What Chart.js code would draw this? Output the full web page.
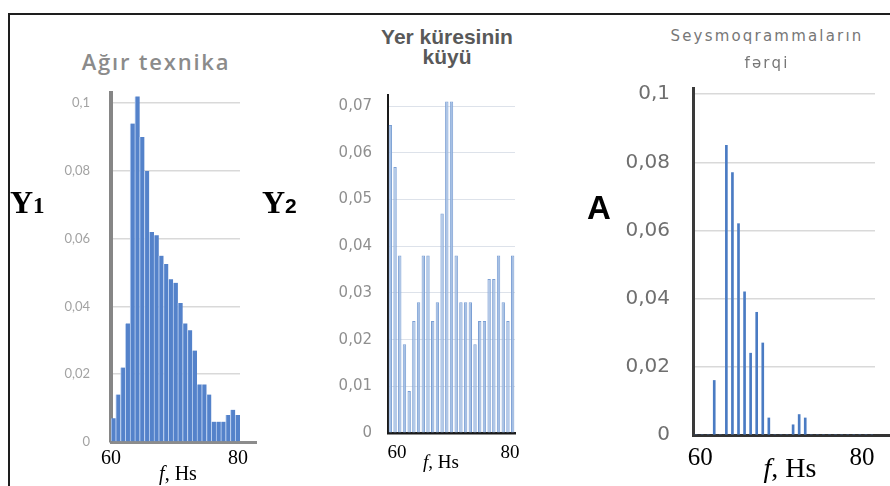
<!DOCTYPE html>
<html>
<head>
<meta charset="utf-8">
<script src="https://cdn.jsdelivr.net/npm/chart.js@4.4.1/dist/chart.umd.min.js"></script>
<style>
  html, body { margin: 0; padding: 0; background: #fff; }
  body { width: 890px; height: 486px; position: relative; overflow: hidden; }
  .frame { position: absolute; left: 8px; top: 13px; width: 900px; height: 500px;
           border-top: 2px solid #1e1e1e; border-left: 2px solid #1e1e1e; }
  canvas { position: absolute; }
  .t { position: absolute; white-space: nowrap; text-align: center; line-height: 1; }
  .serif { font-family: "Liberation Serif", "Times New Roman", serif; color: #000; }
</style>
</head>
<body>
<div class="frame"></div>

<canvas id="c1" width="272" height="406" style="left:20px;top:80px"></canvas>
<canvas id="c2" width="240" height="406" style="left:300px;top:80px"></canvas>
<canvas id="c3" width="290" height="416" style="left:600px;top:70px"></canvas>

<!-- panel titles -->
<div class="t" style="left:56px;width:200px;top:46px;font:600 22px 'Open Sans';color:#8b8b8b;letter-spacing:1.8px">Ağır texnika</div>
<div class="t" style="left:347px;width:200px;top:25px;font:bold 21px 'Liberation Sans';color:#595959">Yer küresinin</div>
<div class="t" style="left:347px;width:200px;top:45px;font:bold 21px 'Liberation Sans';color:#595959">küyü</div>
<div class="t" style="left:667px;width:200px;top:27px;font:15px 'DejaVu Sans';color:#777;letter-spacing:2.2px">Seysmoqrammaların</div>
<div class="t" style="left:667px;width:200px;top:54px;font:15px 'DejaVu Sans';color:#777;letter-spacing:2.2px">fərqi</div>

<!-- side labels -->
<div class="t serif" style="left:10px;top:186px;font-weight:bold;font-size:32px">Y<span style="font-size:23px">1</span></div>
<div class="t" style="left:262px;top:184px;font:bold 32px 'Liberation Serif';color:#000">Y<span style="font:bold 21px 'Liberation Sans'">2</span></div>
<div class="t" style="left:587px;top:189px;font:bold 33px 'Liberation Sans';color:#000">A</div>

<!-- x axis names -->
<div class="t serif" style="left:128px;width:100px;top:463px;font-size:20px"><i>f</i>, Hs</div>
<div class="t serif" style="left:391px;width:100px;top:452px;font-size:19px"><i>f</i>, Hs</div>
<div class="t serif" style="left:740px;width:100px;top:454px;font-size:28px"><i>f</i>, Hs</div>

<script>
// frequency bins (bars left to right)
const bins27 = ['1','2','3','4','5','6','7','8','9','10','11','12','13','14','15','16','17','18','19','20','21','22','23','24','25','26','27'];
const bins30 = ['1','2','3','4','5','6','7','8','9','10','11','12','13','14','15','16','17','18','19','20','21','22','23','24','25','26','27','28','29','30'];

// Ağır texnika (Y1)
const heavyMachinery = [0.007, 0.014, 0.022, 0.035, 0.094, 0.102, 0.090, 0.080, 0.062, 0.061,
  0.055, 0.0525, 0.048, 0.047, 0.041, 0.035, 0.033, 0.027, 0.017, 0.017,
  0.014, 0.006, 0.006, 0.006, 0.008, 0.0095, 0.008];

// Yer küresinin küyü (Y2)
const earthNoise = [0.066, 0.057, 0.038, 0.019, 0.009, 0.024, 0.028, 0.038, 0.038, 0.024,
  0.028, 0.047, 0.071, 0.071, 0.038, 0.028, 0.028, 0.028, 0.019, 0.024,
  0.024, 0.033, 0.033, 0.038, 0.028, 0.024, 0.038];

// Seysmoqrammaların fərqi (A)
const seismoDiff = [0, 0, 0, 0.016, 0, 0.085, 0.077, 0.062, 0.042, 0.024,
  0.036, 0.027, 0.005, 0, 0, 0, 0.003, 0.006, 0.005, 0,
  0, 0, 0, 0, 0, 0, 0, 0, 0, 0];

const yTicksA = [0, 0.02, 0.04, 0.06, 0.08, 0.1];
const yTicksB = [0, 0.01, 0.02, 0.03, 0.04, 0.05, 0.06, 0.07];
const xTickLabels = [60, 80];

const commaFmt = v => String(v).replace('.', ',');

// lets the bottom axis line run on past the plot, like the original
const axisTail = {
  id: 'axisTail',
  afterDraw(chart, args, opts) {
    if (!opts.length) return;
    const x = chart.scales.x;
    const ctx = chart.ctx;
    const y = Math.round(x.top) + (opts.width % 2 ? 0.5 : 0);
    ctx.save();
    ctx.strokeStyle = opts.color;
    ctx.lineWidth = opts.width;
    ctx.beginPath();
    ctx.moveTo(chart.chartArea.right - 2, y);
    ctx.lineTo(chart.chartArea.right + opts.length, y);
    ctx.stroke();
    ctx.restore();
  }
};

function panel(id, o) {
  return new Chart(document.getElementById(id), {
    type: 'bar',
    data: {
      labels: o.labels,
      datasets: [{
        data: o.data,
        backgroundColor: o.fill,
        borderColor: o.stroke,
        borderWidth: o.borderWidth,
        borderSkipped: 'start',
        barPercentage: o.barPct,
        categoryPercentage: 1,
        barThickness: o.thickness
      }]
    },
    options: {
      responsive: false,
      animation: false,
      events: [],
      layout: { autoPadding: false, padding: o.pad },
      plugins: {
        legend: { display: false },
        tooltip: { enabled: false },
        axisTail: o.tail
      },
      scales: {
        x: {
          type: 'category',
          grid: { display: false },
          ticks: { display: false },
          border: { color: o.xAxisColor, width: o.xAxisWidth },
          afterFit: s => { s.height = 0; s.paddingLeft = 0; s.paddingRight = 0; }
        },
        xl: {
          type: 'linear',
          position: 'bottom',
          offset: false,
          min: o.fMin, max: o.fMax,
          grid: { display: false },
          border: { display: false },
          afterBuildTicks: s => { s.ticks = xTickLabels.map(v => ({ value: v })); },
          ticks: {
            autoSkip: false, maxRotation: 0,
            color: '#000',
            padding: o.xPad,
            font: { family: 'Liberation Serif', size: o.xSize, lineHeight: 1 }
          },
          afterFit: s => { s.height = o.xh; s.paddingLeft = 0; s.paddingRight = 0; }
        },
        y: {
          min: 0, max: o.yMax,
          afterBuildTicks: s => { s.ticks = o.yTicks.map(v => ({ value: v })); },
          grid: { color: o.gridColor, lineWidth: o.gridWidth, drawTicks: false },
          border: { color: o.yAxisColor, width: o.yAxisWidth },
          ticks: {
            color: o.yColor,
            padding: o.yPad,
            font: o.yFont,
            callback: v => commaFmt(v)
          },
          afterFit: s => { s.width = o.yw; s.paddingTop = 0; s.paddingBottom = 0; }
        }
      }
    },
    plugins: [axisTail]
  });
}

panel('c1', {
  labels: bins27, data: heavyMachinery,
  fill: '#5482ca', stroke: '#b9cff0', borderWidth: { left: 1, right: 0, top: 0, bottom: 0 },
  barPct: 1,
  pad: { top: 13, right: 52, left: 0, bottom: 0 }, yw: 91, xh: 44,
  yMax: 0.103, yTicks: yTicksA,
  gridColor: '#d9d9d9', gridWidth: 1.5,
  xAxisColor: '#8c8c8c', xAxisWidth: 3, yAxisColor: '#868686', yAxisWidth: 4,
  yColor: '#a3a3a3', yPad: 21, yFont: { family: 'Lato', size: 13 },
  fMin: 60, fMax: 80.3, xSize: 20, xPad: -1,
  tail: { length: 17, color: '#8c8c8c', width: 3 }
});

panel('c2', {
  labels: bins27, data: earthNoise,
  fill: '#a6c0e4', stroke: '#7b9fd4', borderWidth: 1,
  barPct: 0.72,
  pad: { top: 15, right: 25, left: 0, bottom: 0 }, yw: 88, xh: 53,
  yMax: 0.0724, yTicks: yTicksB,
  gridColor: '#dde2ea', gridWidth: 1,
  xAxisColor: '#1a1a1a', xAxisWidth: 2.5, yAxisColor: '#1a1a1a', yAxisWidth: 2,
  yColor: '#8f8f8f', yPad: 16, yFont: { family: 'DejaVu Sans', size: 15 },
  fMin: 58.4, fMax: 80.9, xSize: 19, xPad: 3,
  tail: { length: 0 }
});

panel('c3', {
  labels: bins30, data: seismoDiff,
  fill: '#4a7bc3', stroke: '#4a7bc3', borderWidth: 0,
  barPct: 1, thickness: 2,
  pad: { top: 18, right: 15, left: 0, bottom: 0 }, yw: 93, xh: 51,
  yMax: 0.1018, yTicks: yTicksA,
  gridColor: '#d9d9d9', gridWidth: 1.5,
  xAxisColor: '#333333', xAxisWidth: 3, yAxisColor: '#3a3a3a', yAxisWidth: 3,
  yColor: '#6f6f6f', yPad: 23, yFont: { family: 'DejaVu Sans', size: 20 },
  fMin: 59.1, fMax: 81.6, xSize: 25, xPad: 2.5,
  tail: { length: 15, color: '#333333', width: 3 }
});
</script>
</body>
</html>
